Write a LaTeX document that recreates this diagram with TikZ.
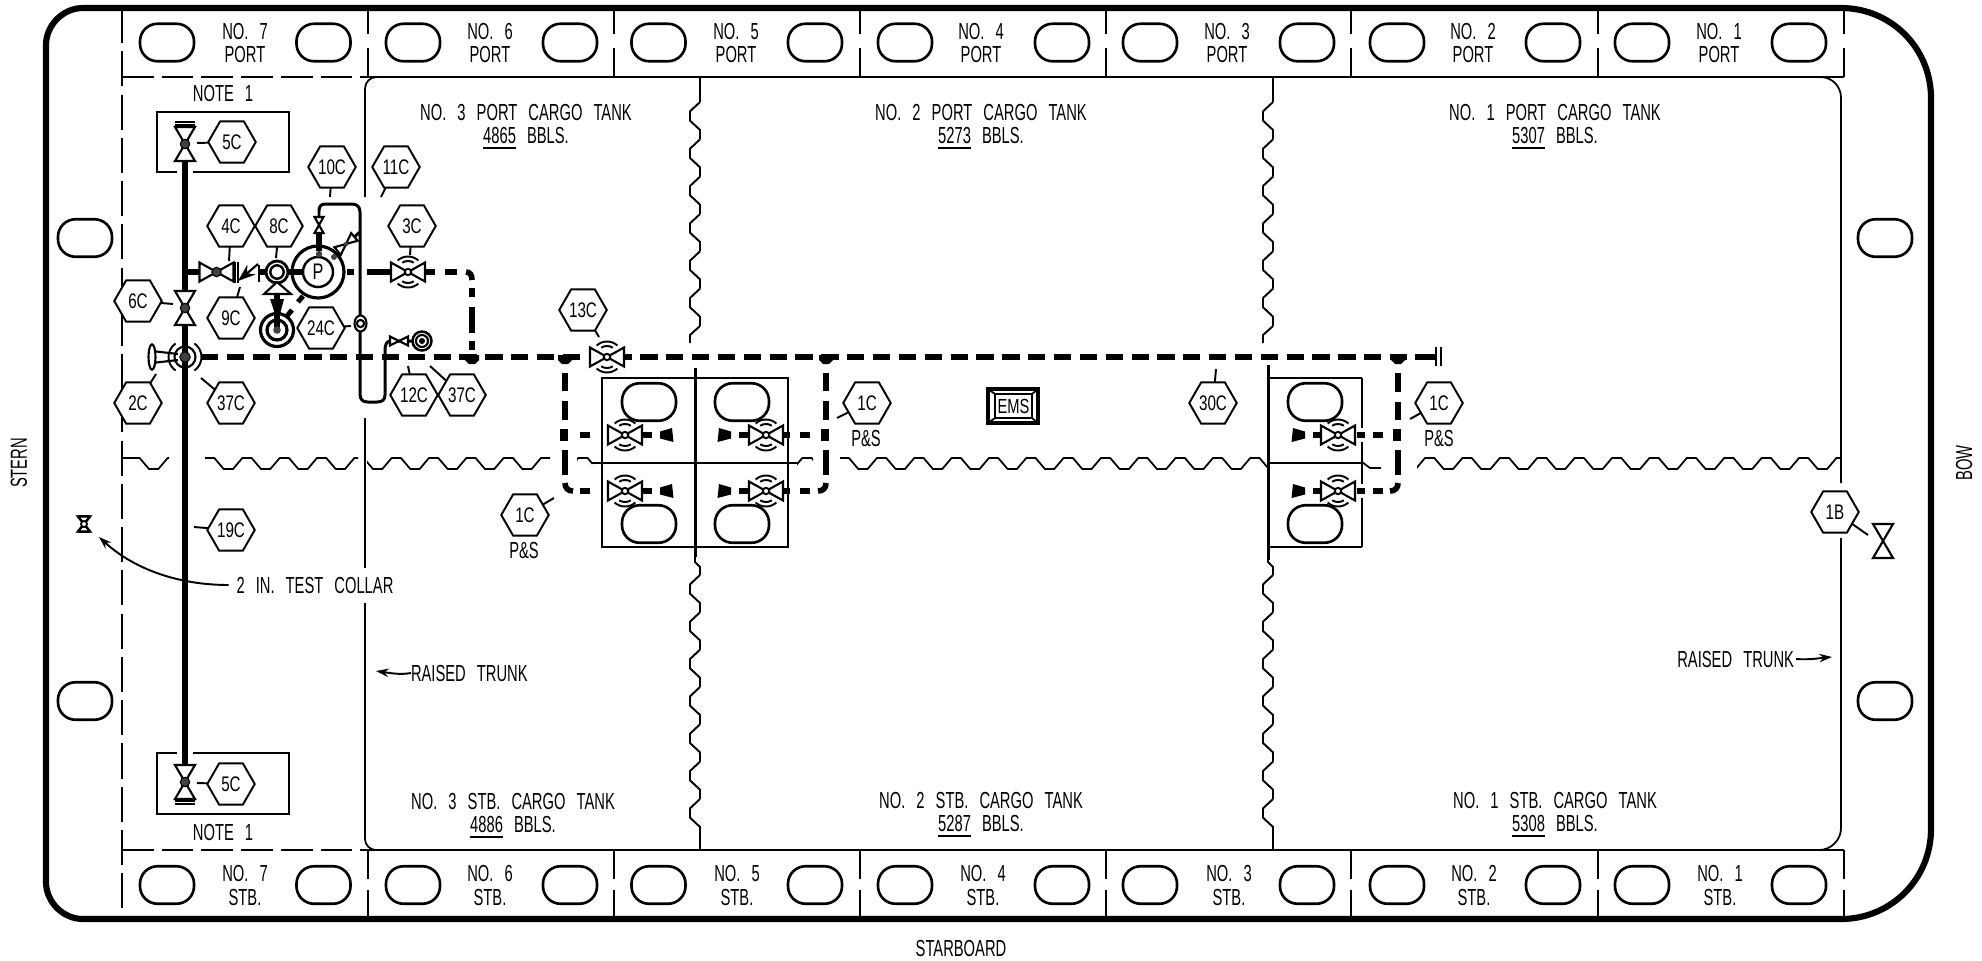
\documentclass[tikz,border=0pt]{standalone}
\usepackage{fontspec}
\setmainfont[FakeStretch=0.635,WordSpace=2.7]{Liberation Sans}
\newfontfamily\hexf[FakeStretch=0.72]{Liberation Sans}
\usetikzlibrary{shapes.geometric,arrows.meta}
\tikzset{
  x=0.01cm,y=-0.01cm,
  hull/.style={line width=1.75pt,line cap=round},
  thinl/.style={line width=0.55pt},
  boxl/.style={line width=0.7pt},
  trunkl/.style={line width=0.5pt},
  ovalbox/.style={draw,line width=0.75pt,rounded corners=5pt,minimum width=0.54cm,minimum height=0.375cm,inner sep=0pt,outer sep=0pt},
  hexnode/.style={draw,line width=0.55pt,regular polygon,regular polygon sides=6,minimum size=0.475cm,inner sep=0pt,outer sep=0pt,font=\hexf\fontsize{6}{7}\selectfont,fill=white},
  lbl/.style={inner sep=0pt,outer sep=0pt,font=\fontsize{6.6}{8}\selectfont,align=center},
  pipe/.style={line width=1.65pt},
  loopl/.style={line width=0.85pt},
  dashp/.style={line width=1.6pt,dash pattern=on 4.9pt off 2.45pt},
  dashs/.style={line width=1.6pt},
  valvel/.style={line width=0.6pt,fill=white,line join=miter},
  dotf/.style={fill=black!75,draw=black,line width=0.3pt},
  ringl/.style={line width=0.55pt},
  arrowl/.style={line width=0.55pt,-{Stealth[length=3.6pt,width=2.4pt]}},
  upy/.style={y=0.01cm},
}
\newcommand{\lb}[4]{\node[lbl] (#1) at (#2,#3) {#4};}
\newcommand{\ov}[3]{\node[ovalbox] (#1) at (#2,#3) {};}
\newcommand{\hexl}[6]{\node[hexnode] (#1) at (#2,#3) {#4};
  \coordinate (#1-l) at (#5,#6); \draw[thinl] (#1) -- (#1-l);}
% horizontal bowtie with rings
\newcommand{\rvalve}[3]{\coordinate (#1) at (#2,#3);
  \draw[ringl,upy] (#1) ++(48:15.5) arc (48:132:15.5);
  \draw[ringl,upy] (#1) ++(58:11) arc (58:122:11);
  \draw[ringl,upy] (#1) ++(-48:15.5) arc (-48:-132:15.5);
  \draw[ringl,upy] (#1) ++(-58:11) arc (-58:-122:11);
  \draw[valvel] (#1) -- ++(-17,-9.5) -- ++(0,19) -- cycle;
  \draw[valvel] (#1) -- ++(17,-9.5) -- ++(0,19) -- cycle;
  \draw[ringl,fill=white] (#1) circle (3.2);}
% vertical bowtie with dot
\newcommand{\vvalve}[3]{\coordinate (#1) at (#2,#3);
  \draw[valvel] (#1) -- ++(-10,-17) -- ++(20,0) -- cycle;
  \draw[valvel] (#1) -- ++(-10,17) -- ++(20,0) -- cycle;
  \draw[dotf] (#1) circle (4.7);}
% end caps
\newcommand{\capl}[2]{\fill (#1,#2-3.5) -- (#1+12,#2-7) -- (#1+13.5,#2+7) -- (#1,#2+3.5) -- cycle;}
\newcommand{\capr}[2]{\fill (#1,#2-3.5) -- (#1-12,#2-7) -- (#1-13.5,#2+7) -- (#1,#2+3.5) -- cycle;}
% junction tees
\newcommand{\teedown}[1]{\fill (#1-7,355) -- (#1+7,355) -- (#1+7,360) -- (#1+3,364) -- (#1-3,364) -- (#1-7,360) -- cycle;}
\newcommand{\teeside}[2]{\fill (#1-5,#2-6) -- (#1+3,#2-6) -- (#1+3,#2+6) -- (#1-5,#2+6) -- cycle;}
\begin{document}
\begin{tikzpicture}
\useasboundingbox (0,0) rectangle (1982,960);
% hull
\draw[hull] (83,8) -- (1841,8) .. controls (1891,8) and (1931,48) .. (1931,98) -- (1931,829) .. controls (1931,879) and (1891,919) .. (1841,919) -- (83,919) .. controls (63,919) and (46,902) .. (46,882) -- (46,45) .. controls (46,25) and (63,8) .. (83,8) -- cycle;
% aft dashed
\draw[thinl,dash pattern=on 10pt off 2.3pt] (122,8) -- (122,919);
\draw[thinl,dash pattern=on 9pt off 2.3pt] (122,77) -- (368,77);
\draw[thinl,dash pattern=on 9pt off 2.3pt] (122,850) -- (368,850);
\draw[thinl] (368,77) -- (1844,77);
\draw[thinl] (368,850) -- (1844,850);
\foreach \xx in {368,614,860,1106,1351,1598,1844}{
  \draw[thinl] (\xx,8) -- (\xx,34) (\xx,48) -- (\xx,77);
  \draw[thinl] (\xx,850) -- (\xx,879) (\xx,890) -- (\xx,919);
}
% trunk outline
\draw[trunkl] (365,197) -- (365,89) .. controls (365,82) and (370,77) .. (377,77) -- (1820,77) .. controls (1832,77) and (1841,86) .. (1841,98) -- (1841,483);
\draw[trunkl] (1841,538) -- (1841,828) .. controls (1841,840) and (1831,850) .. (1819,850) -- (376,850) .. controls (370,850) and (365,845) .. (365,839) -- (365,603);
\draw[trunkl] (365,568) -- (365,418);
% wave, part one
\begin{scope}
\clip (122,450) rectangle (169,475) (205,450) rectangle (358,475) (367,450) rectangle (550,475) (577,450) rectangle (592,475) (797,450) rectangle (813,475) (840,450) rectangle (1269,475);
\draw[trunkl] (122,458) -- (131,458);
\foreach \k in {-2,...,28}{
  \pgfmathsetmacro{\xa}{205+37.33*\k}
  \draw[trunkl,line join=round,line cap=round] (\xa,458) -- ++(9.33,0) -- ++(9.33,11) -- ++(9.33,0) -- ++(9.33,-11);
}
\end{scope}
% wave, part two
\begin{scope}
\clip (1417,450) rectangle (1841,475);
\foreach \k in {-1,...,11}{
  \pgfmathsetmacro{\xa}{1425+37.4*\k}
  \draw[trunkl,line join=round,line cap=round] (\xa,458) -- ++(9.35,0) -- ++(9.35,11) -- ++(9.35,0) -- ++(9.35,-11);
}
\end{scope}
\draw[trunkl] (1362,462) -- (1370,468) -- (1381,468);
% vertical wavy dividers
\foreach \xo in {690,1263}{
  \draw[thinl] (\xo+10,77) -- (\xo+10,102);
  \foreach \k in {0,...,5}{
    \pgfmathsetmacro{\ya}{102+37.33*\k}
    \draw[thinl,line join=round] (\xo+10,\ya) -- ++(-10,9.33) -- ++(0,9.33) -- ++(10,9.33) -- ++(0,9.33);
  }
  \draw[thinl] (\xo+10,326) -- (\xo,335) -- (\xo,343);
  \draw[thinl,line join=round] (\xo+5,557) -- (\xo+5,562) -- (\xo+10,567) -- (\xo+10,575);
  \foreach \k in {0,...,6}{
    \pgfmathsetmacro{\ya}{575+37.33*\k}
    \draw[thinl,line join=round] (\xo+10,\ya) -- ++(-10,9.33) -- ++(0,9.33) -- ++(10,9.33) -- ++(0,9.33);
  }
  \draw[thinl] (\xo+10,826) -- (\xo+10,850);
}
% ovals
\foreach \xx [count=\i] in {167,323.5,413,570,658.5,815,905,1062,1150,1307,1397,1553,1642,1799}{
  \ov{ot\i}{\xx}{42.5}
  \ov{ob\i}{\xx}{885}
}
\ov{osa}{85}{238}\ov{osb}{85}{701}\ov{osc}{1885}{238}\ov{osd}{1885}{701}
% tank boxes
\draw[boxl] (602,378) rectangle (788,547);
\draw[boxl] (592,463) -- (797,463);
\draw[line width=0.85pt] (695,368) -- (695,557);
\draw[boxl] (1362,378) -- (1269,378) (1269,547) -- (1362,547);
\draw[boxl] (1362,378) -- (1362,428) (1362,442) -- (1362,484) (1362,498) -- (1362,547);
\draw[boxl] (1269,463) -- (1362,463);
\draw[line width=0.85pt] (1268,365) -- (1268,560);
\ov{oba}{649}{402}\ov{obb}{742}{402}\ov{obc}{649}{524}\ov{obd}{742}{524}\ov{obe}{1315}{402}\ov{obf}{1315}{524}
% note boxes
\draw[boxl] (177,172) -- (157,172) -- (157,112) -- (289,112) -- (289,172) -- (193,172);
\draw[boxl] (177,753) -- (157,753) -- (157,814) -- (289,814) -- (289,753) -- (193,753);
% main thick pipe
\draw[pipe] (185,162) -- (185,765);
\draw[pipe] (185,272) -- (199,272);
% main dashed header
\draw[dashp] (201,357) -- (1415,357);
\draw[dashs] (1415,357) -- (1436,357);
\draw[boxl] (1436,347) -- (1436,366) (1441,347) -- (1441,366);
% pump discharge to header
\draw[dashs] (425,272) -- (435,272) (445,272) -- (457,272);
\draw[dashs] (466,272) .. controls (470,272) and (472,275) .. (472,280);
\draw[dashs] (472,288) -- (472,297) (472,307) -- (472,333) (472,341) -- (472,350);
\teedown{472}
% left branch
\teedown{565}\teedown{826}\teedown{1398}
\foreach \xb/\ya/\yb/\yc in {565/373/391/401,826/373/391/401,1398/373/392/402}{
  \draw[dashs] (\xb,\ya) -- (\xb,\yb) (\xb,\yc) -- (\xb,420) (\xb,450) -- (\xb,475);
  \teeside{\xb}{435}
}
\draw[dashs] (565,483) .. controls (565,488) and (568,491) .. (573,491);
\draw[dashs] (826,483) .. controls (826,488) and (823,491) .. (818,491);
\draw[dashs] (1398,483) .. controls (1398,488) and (1395,491) .. (1390,491);
\foreach \yy in {435,491}{
  \draw[dashs] (580,\yy) -- (590,\yy) (642,\yy) -- (652,\yy);
  \capl{660}{\yy}
  \capr{731}{\yy}
  \draw[dashs] (739,\yy) -- (748,\yy) (783,\yy) -- (790,\yy) (800,\yy) -- (810,\yy);
  \capr{1305}{\yy}
  \draw[dashs] (1313,\yy) -- (1322,\yy) (1357,\yy) -- (1365,\yy) (1373,\yy) -- (1383,\yy);
}
\rvalve{v1}{625}{435}\rvalve{v2}{625}{491}\rvalve{v3}{766}{435}\rvalve{v4}{766}{491}\rvalve{v5}{1338}{435}\rvalve{v6}{1338}{491}
\rvalve{v13}{607}{357}
% pump line
\draw[pipe] (259,272) -- (266,272) (288,272) -- (305,272);
\draw[dashs] (347,272) -- (354,272) (367,272) -- (391,272);
\rvalve{v3c}{408}{272}
% pump
\coordinate (pmp) at (318,272);
\draw[line width=0.9pt] (pmp) circle (26);
\node[circle,draw,line width=0.7pt,minimum size=0.3cm,inner sep=0pt,fill=white,font=\hexf\fontsize{6.4}{7}\selectfont] (pmpi) at (pmp) {P};
\fill[black!75] (319,254) circle (3.2);
\draw[pipe] (319,233) -- (319,251);
% vent loop
\draw[loopl] (319,217) -- (319,211) .. controls (319,206) and (321,204) .. (326,204) -- (352,204) .. controls (357,204) and (360,207) .. (360,212) -- (360,394) .. controls (360,400) and (363,402) .. (368,402) -- (377,402) .. controls (382,402) and (385,400) .. (385,395) -- (385,350) .. controls (385,344) and (387,341) .. (391,341) -- (422,341);
% 10C small valve
\coordinate (v10) at (319,225);
\draw[valvel] (v10) -- ++(-4.5,-8) -- ++(9,0) -- cycle;
\draw[valvel] (v10) -- ++(-4.5,8) -- ++(9,0) -- cycle;
% diagonal branch with valve
\draw[loopl] (360,232) -- (352,239);
\draw[line width=0.6pt] (333,258) -- (347,244);
\fill[black!75] (334,257) circle (3);
\begin{scope}[shift={(346,244)},rotate=40]
\draw[valvel] (0,0) -- (-11,-5) -- (-11,5) -- cycle;
\draw[valvel] (0,0) -- (11,-5) -- (11,5) -- cycle;
\fill[black!75] (0,0) circle (2.2);
\end{scope}
% 12C small valve and target
\coordinate (v12) at (399,341);
\draw[valvel] (v12) -- ++(-9,-4.5) -- ++(0,9) -- cycle;
\draw[valvel] (v12) -- ++(9,-4.5) -- ++(0,9) -- cycle;
\coordinate (tg2) at (422,341);
\draw[line width=0.7pt,fill=white] (tg2) circle (9.5);
\draw[line width=0.6pt] (tg2) circle (6);
\fill (tg2) circle (3);
% fitting 24C
\coordinate (ft) at (360.5,323.5);
\draw[line width=0.6pt,fill=white] (ft) ellipse (6 and 8);
\draw[line width=0.6pt,fill=white] (ft) circle (3.6);
% check valve 9C
\draw[boxl] (235,262) -- (235,283) (238,262) -- (238,283) (259,265) -- (259,282);
\draw[line width=0.6pt,-{Stealth[length=5pt,width=3.6pt]}] (258,264) -- (238,281);
% circle below
\coordinate (c8) at (277,272);
\draw[line width=0.8pt,fill=white] (c8) circle (11);
\draw[line width=0.7pt] (c8) circle (6.7);
\draw[valvel] (277,282) -- (264,294) -- (291,294) -- cycle;
\coordinate (tg1) at (277,330);
\draw[line width=0.9pt] (tg1) circle (16.5);
\draw[line width=0.9pt] (tg1) circle (10);
\draw[pipe] (277,294) -- (277,330);
\fill (270,299) -- (284,299) -- (280,314) -- (275,314) -- cycle;
\fill[black!75] (tg1) circle (3.8);
\draw[line width=1.4pt] (303,296) -- (298,302) (292,310) -- (287,316);
% 4C valve and vertical valves
\coordinate (v4c) at (216.5,272);
\draw[valvel] (v4c) -- ++(-17,-9.5) -- ++(0,19) -- cycle;
\draw[valvel] (v4c) -- ++(17,-9.5) -- ++(0,19) -- cycle;
\draw[dotf] (v4c) circle (4.7);
\vvalve{v5t}{185}{144}\vvalve{v5b}{185}{782}\vvalve{v6c}{185}{308}
\draw[boxl] (175,122) -- (195,122) (175,125) -- (195,125);
\draw[boxl] (175,801) -- (195,801) (175,804) -- (195,804);
% 2C valve
\coordinate (v2c) at (185,357);
\draw[ringl,upy] (v2c) ++(-55:16.5) arc (-55:55:16.5);
\draw[ringl,upy] (v2c) ++(125:16.5) arc (125:235:16.5);
\draw[line width=0.6pt,fill=white] (v2c) circle (10.5);
\draw[pipe] (185,346) -- (185,368);
\draw[dotf] (v2c) circle (5.2);
\draw[line width=0.6pt] (152,351) -- (178,354) (152,363) -- (178,360);
\draw[line width=0.6pt,fill=white] (152,357) ellipse (3.5 and 12.7);
% 1B valve
\coordinate (v1b) at (1883,541);
\draw[valvel] (v1b) -- ++(-10,-17) -- ++(20,0) -- cycle;
\draw[valvel] (v1b) -- ++(-10,17) -- ++(20,0) -- cycle;
% test collar
\coordinate (tc) at (84,524);
\draw[line width=0.7pt] (tc) -- ++(-6,-7.5) -- ++(12,0) -- cycle;
\draw[line width=0.7pt] (tc) -- ++(-6,7.5) -- ++(12,0) -- cycle;
\draw[line width=0.5pt,fill=white] (tc) circle (3);
\draw[line width=0.8pt] (78,516) -- (90,516) (78,532) -- (90,532);
% EMS
\draw[line width=0.9pt] (988,389) rectangle (1038,423);
\draw[line width=0.5pt] (995,394) rectangle (1032,418) (988,389) -- (995,394) (1038,389) -- (1032,394) (988,423) -- (995,418) (1038,423) -- (1032,418);
\node[inner sep=0pt,font=\hexf\fontsize{5.8}{7}\selectfont] (ems) at (1013.5,406) {EMS};
% hexagons
\hexl{h5t}{232}{142}{5C}{197}{143}
\hexl{h10}{332}{167}{10C}{330}{197}
\hexl{h11}{396}{167}{11C}{381}{197}
\hexl{h4}{231}{226}{4C}{229}{261}
\hexl{h8}{279}{226}{8C}{276}{258}
\hexl{h3}{412}{226}{3C}{410}{255}
\hexl{h6}{138}{301}{6C}{173}{304}
\hexl{h9}{231}{318}{9C}{240}{287}
\hexl{h24}{321}{328}{24C}{351}{326}
\hexl{h2}{138}{403}{2C}{156}{374}
\hexl{h37a}{231}{403}{37C}{201}{378}
\hexl{h12}{414}{395}{12C}{408}{366}
\hexl{h37b}{462}{395}{37C}{430}{366}
\hexl{h13}{583}{310}{13C}{599}{337}
\hexl{h1a}{867}{403}{1C}{837}{418}
\hexl{h1b}{525}{515}{1C}{554}{498}
\hexl{h30}{1213}{403}{30C}{1216}{369}
\hexl{h1c}{1439}{403}{1C}{1410}{419}
\hexl{h19}{231}{530}{19C}{194}{527}
\hexl{h5b}{231}{784}{5C}{197}{783}
\hexl{h1bw}{1835}{512}{1B}{1868}{535}
\lb{ps1}{866}{438}{P\&S}\lb{ps2}{524}{550}{P\&S}\lb{ps3}{1439}{438}{P\&S}
% labels side tanks
\foreach \xx/\n in {245/7,490/6,736/5,981/4,1227/3,1473/2,1719/1}{
  \node[lbl] at (\xx,32) {NO. \n};
  \node[lbl] at (\xx,55) {PORT};
}
\foreach \xx/\n in {245/7,490/6,737/5,983/4,1229/3,1474/2,1720/1}{
  \node[lbl] at (\xx,873) {NO. \n};
  \node[lbl] at (\xx,897) {STB.};
}
\lb{t3p}{526}{112.5}{NO. 3 PORT CARGO TANK}
\lb{t3pb}{526}{135}{\smash{\underline{4865}} BBLS.}
\lb{t2p}{981}{112.5}{NO. 2 PORT CARGO TANK}
\lb{t2pb}{981}{135}{\smash{\underline{5273}} BBLS.}
\lb{t1p}{1555}{112.5}{NO. 1 PORT CARGO TANK}
\lb{t1pb}{1555}{135}{\smash{\underline{5307}} BBLS.}
\lb{t3s}{513}{801}{NO. 3 STB. CARGO TANK}
\lb{t3sb}{513}{824}{\smash{\underline{4886}} BBLS.}
\lb{t2s}{981}{800}{NO. 2 STB. CARGO TANK}
\lb{t2sb}{981}{823}{\smash{\underline{5287}} BBLS.}
\lb{t1s}{1555}{800}{NO. 1 STB. CARGO TANK}
\lb{t1sb}{1555}{823}{\smash{\underline{5308}} BBLS.}
\lb{n1}{223}{94}{NOTE 1}\lb{n2}{223}{832}{NOTE 1}
\node[lbl,rotate=90] (stern) at (19,463) {STERN};
\node[lbl,rotate=90] (bow) at (1964,463) {BOW};
\lb{sb}{961}{948}{STARBOARD}
\lb{tcl}{315}{585}{2 IN. TEST COLLAR}
\node[lbl,anchor=west] (rt1) at (411,673) {RAISED TRUNK};
\node[lbl,anchor=east] (rt2) at (1794,659) {RAISED TRUNK};
\coordinate (a1) at (99,537);\coordinate (a2) at (376,671);\coordinate (a3) at (1832,657);
\draw[arrowl] (tcl.west) ++(-8,0) .. controls (180,585) and (135,570) .. (a1);
\draw[arrowl] (rt1.west) .. controls (400,675) and (390,673) .. (a2);
\draw[arrowl] (rt2.east) ++(2,0) .. controls (1810,660) and (1820,658) .. (a3);
\end{tikzpicture}
\end{document}
